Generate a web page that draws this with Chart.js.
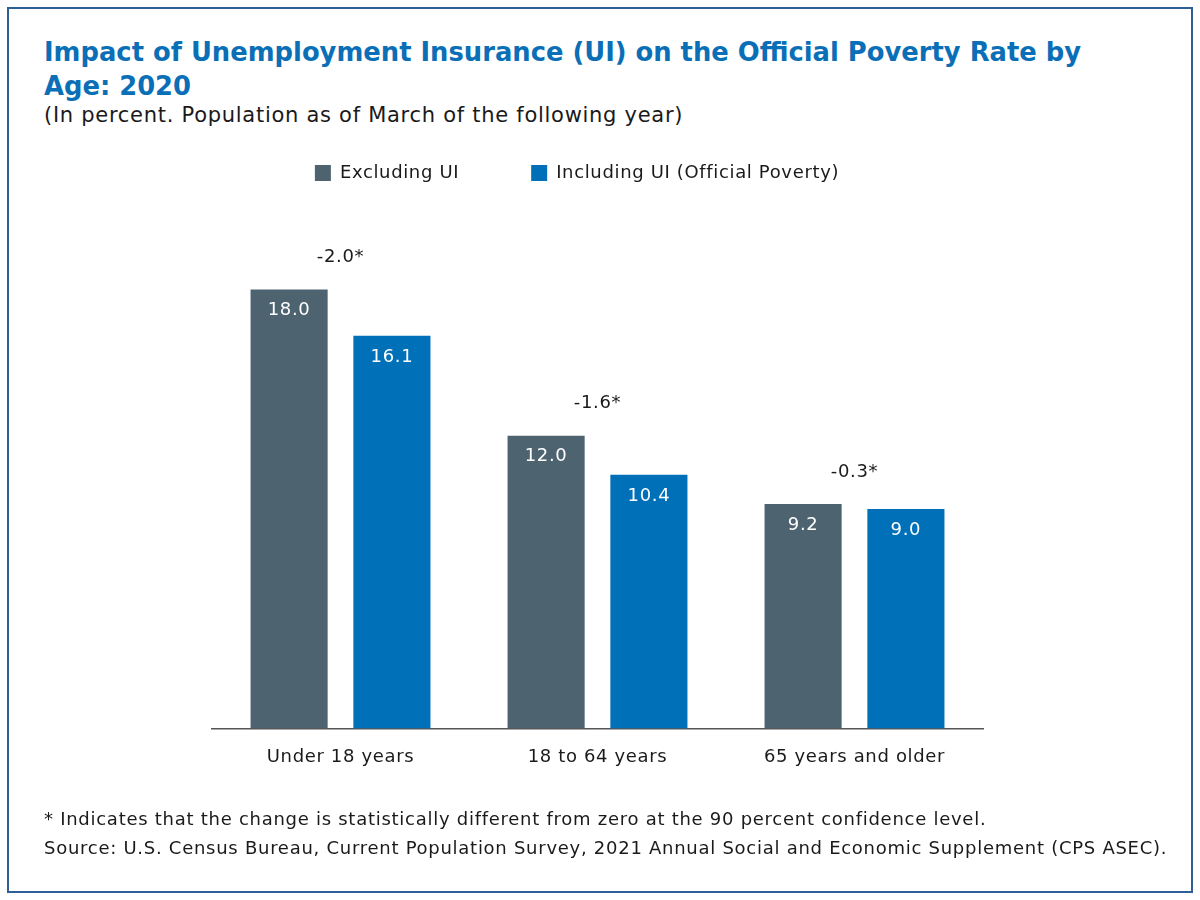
<!DOCTYPE html>
<html>
<head>
<meta charset="utf-8">
<script src="https://cdn.jsdelivr.net/npm/chart.js@4"></script>
<style>
  body { margin: 0; background: #fff; font-family: "DejaVu Sans", sans-serif; }
  #wrap { position: relative; width: 1200px; height: 900px; overflow: hidden; }
  #frame { position: absolute; left: 7px; top: 7px; width: 1182px; height: 882px; border: 2px solid #2f5f98; }
  #title { position: absolute; left: 44px; top: 35px; font-size: 25.8px; font-weight: 700; line-height: 34px; color: #0a6fb6; }
  #sub { position: absolute; left: 44px; top: 103px; font-size: 21px; color: #1a1a1a; letter-spacing: 0.72px; }
  #notes { position: absolute; left: 44px; top: 804px; font-size: 18px; line-height: 29px; color: #1a1a1a; letter-spacing: 0.73px; }
  canvas { position: absolute; left: 0; top: 0; }
</style>
</head>
<body>
<div id="wrap">
  <div id="frame"></div>
  <div id="title">Impact of Unemployment Insurance (UI) on the Official Poverty Rate by<br>Age: 2020</div>
  <div id="sub">(In percent. Population as of March of the following year)</div>
  <canvas id="chart" width="1200" height="900"></canvas>
  <div id="notes">* Indicates that the change is statistically different from zero at the 90 percent confidence level.<br>Source: U.S. Census Bureau, Current Population Survey, 2021 Annual Social and Economic Supplement (CPS ASEC).</div>
</div>
<script>
const categorias = ["Under 18 years", "18 to 64 years", "65 years and older"];
const excluyendoUI = [18.0, 12.0, 9.2];
const incluyendoUI = [16.1, 10.4, 9.0];
const diferencias = ["-2.0*", "-1.6*", "-0.3*"];

const fuente = "'DejaVu Sans', sans-serif";
Chart.defaults.font.family = fuente;
Chart.defaults.color = "#1a1a1a";

// letras un poco mas separadas, como en la figura original
const espaciado = {
  id: "espaciado",
  beforeUpdate(chart) { chart.ctx.letterSpacing = "0.65px"; }
};

// etiquetas dentro de las barras y la diferencia arriba de cada grupo
const etiquetas = {
  id: "etiquetas",
  afterDatasetsDraw(chart) {
    const ctx = chart.ctx;
    ctx.save();
    ctx.textAlign = "center";
    ctx.textBaseline = "middle";
    ctx.font = "18px " + fuente;
    ctx.fillStyle = "#ffffff";
    chart.data.datasets.forEach((ds, d) => {
      chart.getDatasetMeta(d).data.forEach((bar, i) => {
        ctx.fillText(ds.data[i].toFixed(1), bar.x, bar.y + 21);
      });
    });
    ctx.fillStyle = "#1a1a1a";
    const x = chart.scales.x;
    diferencias.forEach((txt, i) => {
      const a = chart.getDatasetMeta(0).data[i];
      const b = chart.getDatasetMeta(1).data[i];
      ctx.fillText(txt, x.getPixelForValue(i), Math.min(a.y, b.y) - 32);
    });
    ctx.restore();
  }
};

new Chart(document.getElementById("chart"), {
  type: "bar",
  data: {
    labels: categorias,
    datasets: [
      { label: "Excluding UI", data: excluyendoUI, backgroundColor: "#4d6370" },
      { label: "Including UI (Official Poverty)", data: incluyendoUI, backgroundColor: "#0070b9" }
    ]
  },
  options: {
    responsive: false,
    animation: false,
    devicePixelRatio: 1,
    layout: { padding: { top: 92, left: 171, right: 217, bottom: 114 } },
    datasets: { bar: { categoryPercentage: 0.8, barPercentage: 0.75 } },
    plugins: {
      legend: {
        position: "top",
        labels: { boxWidth: 16, boxHeight: 16, padding: 72, font: { size: 18 }, color: "#1a1a1a" }
      },
      tooltip: { enabled: false }
    },
    scales: {
      x: {
        grid: { display: false, drawTicks: false },
        border: { color: "#555555", width: 1.5 },
        ticks: { padding: 18, font: { size: 18 }, color: "#1a1a1a" }
      },
      y: {
        min: 0,
        max: 22,
        grid: { display: false, drawTicks: false },
        border: { display: false },
        ticks: { display: false },
        afterFit(s) { s.width = 41; }
      }
    }
  },
  plugins: [espaciado, etiquetas]
});
</script>
</body>
</html>
